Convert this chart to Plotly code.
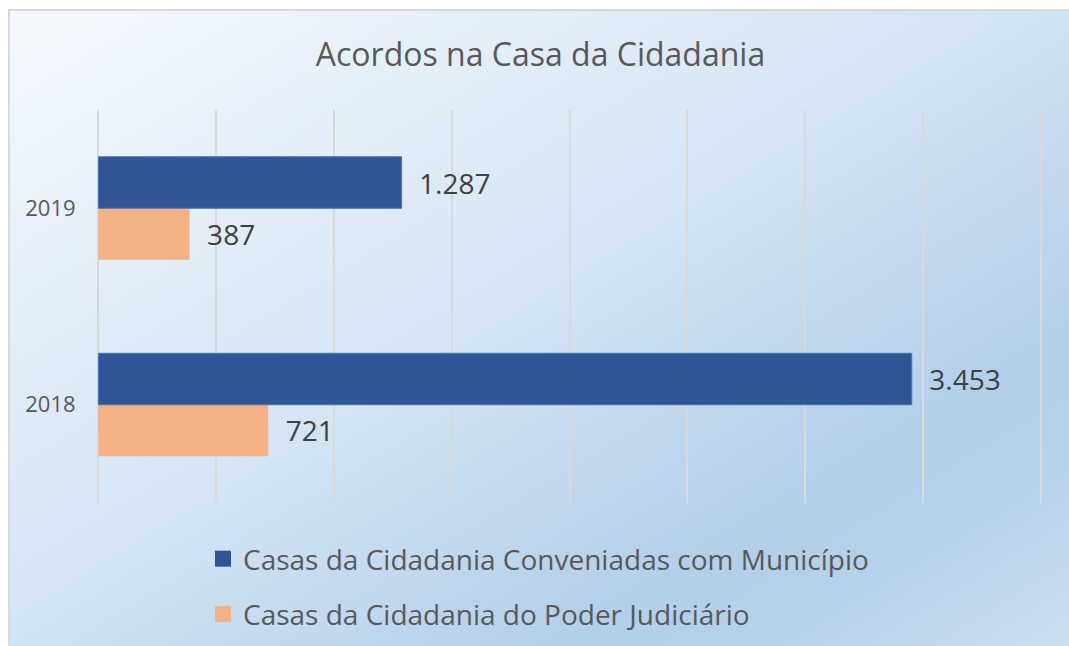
import base64
import plotly.graph_objects as go

# ---- data ----
years = ["2018", "2019"]
conveniadas = [3453, 1287]
judiciario = [721, 387]
series_names = ["Casas da Cidadania Conveniadas com Município",
                "Casas da Cidadania do Poder Judiciário"]
title_text = "Acordos na Casa da Cidadania"

BLUE = "#2f5597"
ORANGE = "#f4b183"
FONT = "Open Sans"

W, H = 1069, 646
L, R, T, B = 97, 27, 110, 143
PW, PH = W - L - R, H - T - B


def px_x(p):
    return (p - L) / PW


def px_y(p):
    return (H - B - p) / PH


fig = go.Figure()

# orange first so it sits below the blue bar inside each category
fig.add_trace(go.Bar(
    y=years, x=judiciario, orientation="h", name=series_names[1],
    marker=dict(color=ORANGE, line=dict(width=0)),
    texttemplate="\u00a0\u00a0%{x:,}", textposition="outside",
    textfont=dict(family=FONT, size=28, color="#404040"),
    cliponaxis=False, showlegend=False,
))
fig.add_trace(go.Bar(
    y=years, x=conveniadas, orientation="h", name=series_names[0],
    marker=dict(color=BLUE, line=dict(width=1, color="#4a72b8")),
    texttemplate="\u00a0\u00a0%{x:,}", textposition="outside",
    textfont=dict(family=FONT, size=28, color="#404040"),
    cliponaxis=False, showlegend=False,
))

# legend entries
for nm, col, grp in [(series_names[0], BLUE, "a"), (series_names[1], ORANGE, "b")]:
    fig.add_trace(go.Scatter(
        x=[None], y=[None], mode="markers", name=nm, legendgroup=grp,
        marker=dict(symbol="square", size=16, color=col),
    ))

# gradient background as svg
svg = f'''<svg xmlns="http://www.w3.org/2000/svg" width="{W}" height="{H}" preserveAspectRatio="none">
<defs><linearGradient id="g" x1="0" y1="0" x2="1" y2="1">
<stop offset="0" stop-color="#f5f9fd"/>
<stop offset="0.45" stop-color="#d5e5f4"/>
<stop offset="0.74" stop-color="#b3cfea"/>
<stop offset="0.83" stop-color="#b5d1eb"/>
<stop offset="1" stop-color="#d0e2f3"/>
</linearGradient></defs>
<rect x="0" y="0" width="{W}" height="{H}" fill="url(#g)"/></svg>'''
uri = "data:image/svg+xml;base64," + base64.b64encode(svg.encode()).decode()

bx0, by0 = 10, 11
fig.add_layout_image(dict(
    source=uri, xref="paper", yref="paper",
    x=px_x(bx0), y=px_y(by0), sizex=(W + 20 - bx0) / PW, sizey=(H + 20 - by0) / PH,
    xanchor="left", yanchor="top", sizing="stretch", layer="below",
))

# chart-area border (left and top edges visible in the crop)
x_l, x_r = px_x(9), px_x(W + 30)
y_t, y_b = px_y(10), px_y(H + 30)
fig.add_shape(type="path", xref="paper", yref="paper",
              path=f"M {x_l} {y_b} L {x_l} {y_t} L {x_r} {y_t}",
              line=dict(color="#d9d9d9", width=2), layer="below")

fig.update_layout(
    width=W, height=H,
    margin=dict(l=L, r=R, t=T, b=B, autoexpand=False),
    paper_bgcolor="white", plot_bgcolor="rgba(0,0,0,0)",
    separators=",.",
    barmode="group", bargap=0.476, bargroupgap=0,
    font=dict(family=FONT, color="#595959"),
    title=dict(text=title_text, x=540.5 / W, xanchor="center",
               y=1 - 55 / H, yanchor="middle",
               font=dict(family=FONT, size=32, color="#595959")),
    xaxis=dict(range=[-6, 4006], dtick=500, tick0=0, showticklabels=False,
               showgrid=True, gridcolor="#d9d9d9", gridwidth=2,
               zeroline=False, showline=False, fixedrange=True),
    yaxis=dict(type="category", categoryorder="array", categoryarray=years,
               range=[-0.5, 1.5], showgrid=False, zeroline=False, showline=False,
               ticks="outside", ticklen=16, tickcolor="rgba(0,0,0,0)",
               tickfont=dict(family=FONT, size=22, color="#595959"), fixedrange=True),
    legend=dict(orientation="v", x=px_x(203), xanchor="left", y=px_y(534), yanchor="top",
                traceorder="grouped", tracegroupgap=16,
                font=dict(family=FONT, size=28, color="#595959"),
                bgcolor="rgba(0,0,0,0)", itemsizing="trace"),
)

fig.write_html("out.html", config={"displayModeBar": False},
               post_script="document.body.style.margin='0';document.body.style.overflow='hidden';")
